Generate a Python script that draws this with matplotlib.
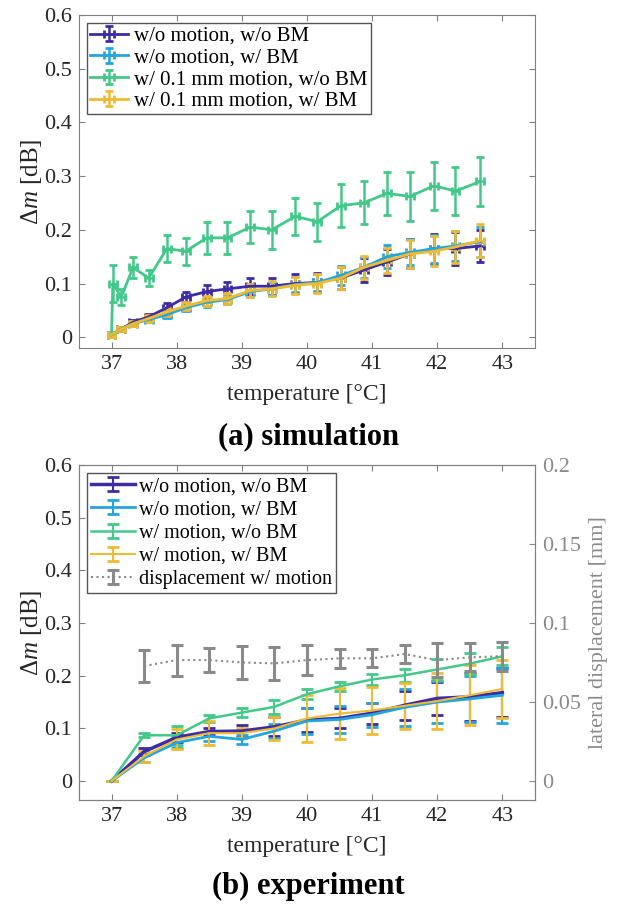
import matplotlib
matplotlib.use("Agg")
import matplotlib.pyplot as plt
from matplotlib.container import ErrorbarContainer
from matplotlib.legend_handler import HandlerErrorbar

plt.rcParams['font.family'] = ['Liberation Serif', 'DejaVu Serif']
plt.rcParams['mathtext.fontset'] = 'custom'
plt.rcParams['mathtext.rm'] = 'Liberation Serif'
plt.rcParams['mathtext.it'] = 'Liberation Serif:italic'

# ---- (a) simulation data ----
x_sim = [37.0, 37.15, 37.33, 37.57, 37.85, 38.14, 38.46, 38.78, 39.13, 39.46,
         39.82, 40.16, 40.52, 40.87, 41.23, 41.58, 41.95, 42.28, 42.66]
x_sim_green = [37.0, 37.02, 37.15, 37.33, 37.57, 37.85, 38.14, 38.46, 38.78, 39.13,
               39.46, 39.82, 40.16, 40.52, 40.87, 41.23, 41.58, 41.95, 42.28, 42.66]

sim_nomo_nobm = [0.005, 0.015, 0.028, 0.038, 0.055, 0.075, 0.085, 0.09, 0.095, 0.095,
                 0.1, 0.102, 0.11, 0.125, 0.14, 0.155, 0.165, 0.165, 0.17]
sim_nomo_nobm_err = [0.004, 0.004, 0.005, 0.006, 0.008, 0.01, 0.012, 0.013, 0.015, 0.016,
                     0.017, 0.018, 0.02, 0.022, 0.024, 0.027, 0.028, 0.03, 0.03]
sim_nomo_bm = [0.005, 0.015, 0.025, 0.033, 0.042, 0.055, 0.065, 0.07, 0.085, 0.09,
               0.098, 0.102, 0.115, 0.13, 0.15, 0.158, 0.165, 0.17, 0.178]
sim_nomo_bm_err = [0.004, 0.004, 0.004, 0.005, 0.006, 0.007, 0.008, 0.009, 0.01, 0.012,
                   0.014, 0.016, 0.018, 0.02, 0.022, 0.024, 0.026, 0.028, 0.028]
sim_mo_nobm = [0.005, 0.10, 0.075, 0.13, 0.11, 0.165, 0.16, 0.185, 0.185, 0.205,
               0.20, 0.225, 0.215, 0.245, 0.25, 0.268, 0.262, 0.282, 0.272, 0.29]
sim_mo_nobm_err = [0.0, 0.035, 0.015, 0.02, 0.015, 0.025, 0.025, 0.03, 0.03, 0.03,
                   0.035, 0.035, 0.035, 0.04, 0.04, 0.04, 0.045, 0.045, 0.045, 0.045]
sim_mo_bm = [0.005, 0.015, 0.025, 0.035, 0.047, 0.058, 0.068, 0.072, 0.087, 0.09,
             0.097, 0.1, 0.11, 0.13, 0.143, 0.155, 0.16, 0.168, 0.18]
sim_mo_bm_err = [0.005, 0.004, 0.005, 0.006, 0.007, 0.008, 0.009, 0.01, 0.012, 0.014,
                 0.016, 0.017, 0.02, 0.022, 0.024, 0.026, 0.028, 0.03, 0.03]

# ---- (b) experiment data ----
x_exp = [37.0, 37.5, 38.0, 38.5, 39.0, 39.5, 40.0, 40.5, 41.0, 41.5, 42.0, 42.5, 43.0]
exp_nomo_nobm = [0, 0.056, 0.083, 0.094, 0.095, 0.103, 0.116, 0.119, 0.129, 0.144, 0.157, 0.16, 0.168]
exp_nomo_nobm_err = [0, 0.006, 0.008, 0.006, 0.011, 0.018, 0.023, 0.019, 0.02, 0.028, 0.032, 0.045, 0.047]
exp_nomo_bm = [0, 0.044, 0.073, 0.085, 0.079, 0.095, 0.114, 0.117, 0.126, 0.14, 0.15, 0.156, 0.163]
exp_nomo_bm_err = [0, 0.007, 0.01, 0.009, 0.008, 0.013, 0.025, 0.025, 0.023, 0.035, 0.04, 0.043, 0.052]
exp_mo_nobm = [0, 0.087, 0.087, 0.119, 0.13, 0.141, 0.165, 0.18, 0.193, 0.201, 0.212, 0.223, 0.237]
exp_mo_nobm_err = [0, 0.004, 0.018, 0.007, 0.008, 0.013, 0.01, 0.008, 0.011, 0.012, 0.02, 0.02, 0.017]
exp_mo_bm = [0, 0.047, 0.079, 0.091, 0.091, 0.1, 0.119, 0.128, 0.134, 0.143, 0.152, 0.163, 0.175]
exp_mo_bm_err = [0, 0.011, 0.019, 0.023, 0.01, 0.022, 0.044, 0.049, 0.044, 0.044, 0.054, 0.057, 0.055]

x_disp = [37.5, 38.0, 38.5, 39.0, 39.5, 40.0, 40.5, 41.0, 41.5, 42.0, 42.5, 43.0]
disp = [0.0728, 0.0766, 0.0766, 0.0751, 0.0745, 0.0766, 0.0777, 0.0777, 0.0804, 0.0766, 0.0783, 0.0791]
disp_err = [0.0101, 0.0098, 0.0077, 0.0105, 0.0103, 0.0097, 0.006, 0.0057, 0.0057, 0.0105, 0.0088, 0.0092]

c_purple = '#3d2ca3'
c_blue = '#23a5e2'
c_green = '#42c98a'
c_yellow = '#efbb33'
c_gray = '#8a8a8a'
spine_c = '#808080'
text_c = '#262626'

fig = plt.figure(figsize=(6.17, 9.05), dpi=100)
ax1 = fig.add_axes([0.128, 0.6155, 0.739, 0.368])
ax2 = fig.add_axes([0.128, 0.116, 0.739, 0.370])

hmap = {ErrorbarContainer: HandlerErrorbar(xerr_size=0.25, yerr_size=0.35)}


def style(ax, right=True):
    for s in ax.spines.values():
        s.set_color(spine_c)
    ax.tick_params(direction='in', length=4, width=0.8, color=spine_c,
                   labelcolor=text_c, labelsize=16, top=True, right=right, pad=5)
    ax.set_xlim(36.5, 43.5)
    ax.set_xticks(range(37, 44))
    ax.set_xlabel('temperature [\u00b0C]', fontsize=17, color=text_c, labelpad=7)
    ax.set_ylabel(r'$\Delta m$ [dB]', fontsize=18, color=text_c, labelpad=0)


# ---- top panel ----
kw = dict(xerr=0.06, capsize=3, capthick=2, elinewidth=1.8, lw=2)
ax1.errorbar(x_sim, sim_nomo_nobm, yerr=sim_nomo_nobm_err, color=c_purple,
             label='w/o motion, w/o BM', **kw)
ax1.errorbar(x_sim, sim_nomo_bm, yerr=sim_nomo_bm_err, color=c_blue,
             label='w/o motion, w/ BM', **kw)
ax1.errorbar(x_sim_green, sim_mo_nobm, yerr=sim_mo_nobm_err, color=c_green,
             label='w/ 0.1 mm motion, w/o BM', **kw)
ax1.errorbar(x_sim, sim_mo_bm, yerr=sim_mo_bm_err, color=c_yellow,
             label='w/ 0.1 mm motion, w/ BM', **kw)
style(ax1)
ax1.set_ylim(-0.02, 0.6)
ax1.set_yticks([0, 0.1, 0.2, 0.3, 0.4, 0.5, 0.6])
ax1.set_yticklabels(['0', '0.1', '0.2', '0.3', '0.4', '0.5', '0.6'])
leg1 = ax1.legend(loc='upper left', fontsize=15, frameon=True, fancybox=False,
                  edgecolor='#555555', framealpha=1, borderpad=0.15, labelspacing=0.1,
                  handlelength=1.8, handletextpad=0.3, borderaxespad=0.4,
                  handler_map=hmap)
leg1.get_frame().set_linewidth(1.0)
fig.text(0.5, 1 - 437 / 905, '(a) simulation', ha='center', va='center',
         fontsize=22, fontweight='bold', color='black')

# ---- bottom panel ----
kw2 = dict(capsize=4, capthick=2, elinewidth=1.5)
ax2.errorbar(x_exp, exp_nomo_nobm, yerr=exp_nomo_nobm_err, color=c_purple, lw=2.5,
             label='w/o motion, w/o BM', **kw2)
ax2.errorbar(x_exp, exp_nomo_bm, yerr=exp_nomo_bm_err, color=c_blue, lw=2,
             label='w/o motion, w/ BM', **kw2)
ax2.errorbar(x_exp, exp_mo_nobm, yerr=exp_mo_nobm_err, color=c_green, lw=1.8,
             label='w/ motion, w/o BM', **kw2)
ax2.errorbar(x_exp, exp_mo_bm, yerr=exp_mo_bm_err, color=c_yellow, lw=1.5,
             label='w/ motion, w/ BM', **kw2)
style(ax2, right=False)
ax2.set_ylim(-0.036, 0.6)
ax2.set_yticks([0, 0.1, 0.2, 0.3, 0.4, 0.5, 0.6])
ax2.set_yticklabels(['0', '0.1', '0.2', '0.3', '0.4', '0.5', '0.6'])

ax3 = ax2.twinx()
ax3.errorbar(x_disp, disp, yerr=disp_err, color=c_gray, lw=1.5, ls=':',
             capsize=4, capthick=2.2, elinewidth=2.2, label='displacement w/ motion')
ax3.set_ylim(-0.012, 0.2)
ax3.set_yticks([0, 0.05, 0.1, 0.15, 0.2])
ax3.set_yticklabels(['0', '0.05', '0.1', '0.15', '0.2'])
for s in ax3.spines.values():
    s.set_color(spine_c)
ax3.tick_params(direction='in', length=4, width=0.8, color=c_gray,
                labelcolor=c_gray, labelsize=16, pad=5)
ax3.set_ylabel('lateral displacement [mm]', fontsize=16, color=c_gray, labelpad=6)

h2, l2 = ax2.get_legend_handles_labels()
h3, l3 = ax3.get_legend_handles_labels()
leg2 = ax3.legend(h2 + h3, l2 + l3, loc='upper left', fontsize=14.5, frameon=True,
                  fancybox=False, edgecolor='#555555', framealpha=1, borderpad=0.2,
                  labelspacing=0.2, handlelength=2.2, handletextpad=0.2,
                  borderaxespad=0.4, handler_map=hmap)
leg2.get_frame().set_linewidth(1.0)
fig.text(0.5, 1 - 886 / 905, '(b) experiment', ha='center', va='center',
         fontsize=22, fontweight='bold', color='black')

fig.savefig('out.png', dpi=100)
